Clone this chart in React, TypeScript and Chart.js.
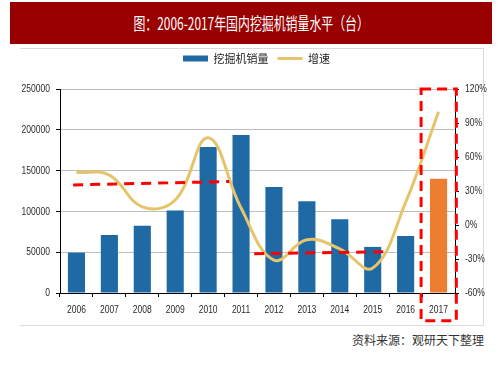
import React, { useEffect, useRef } from 'react';
import { Chart, registerables } from 'chart.js';

Chart.register(...registerables);

// ---- data ----
const years = ['2006', '2007', '2008', '2009', '2010', '2011', '2012', '2013', '2014', '2015', '2016', '2017'];
const sales = [49500, 71000, 82500, 101000, 179000, 193500, 130000, 112500, 90500, 56500, 70000, 140000];
const growth = [46.5, 44, 16, 22, 77, 15, -31, -13, -21, -38, 20, 100];
const highlightYear = '2017';

const salesMin = 0;
const salesMax = 250000;
const salesStep = 50000;
const growthMin = -60;
const growthMax = 120;
const growthStep = 30;

const titleText = '图：2006-2017年国内挖掘机销量水平（台）';
const salesLabel = '挖掘机销量';
const growthLabel = '增速';
const sourceText = '资料来源：观研天下整理';

// dashed annotations, in data units (x = category index, y = sales axis)
const trendAX = [-0.1, 4.64];
const trendAY = [132400, 136600];
const trendBX = [5.4, 9.53];
const trendBY = [48200, 50600];
const boxX = [10.47, 11.54];
const boxY = [-34000, 250000];

// ---- styles ----
const BLUE = '#1F6AA5';
const ORANGE = '#ED7D31';
const GOLD = '#E5C46B';
const RED = '#FF0000';
const TICK_FONT = "'Liberation Sans', Arial, sans-serif";
const TICK_SIZE = 11.5;
const TICK_SX = 0.74;
const CJK_FONT = "'Noto Sans CJK SC', 'Noto Sans', sans-serif";

function condensedText(ctx: any, text: string, x: number, y: number, align: string) {
  ctx.save();
  ctx.translate(x, y);
  ctx.scale(TICK_SX, 1);
  ctx.textAlign = align;
  ctx.textBaseline = 'middle';
  ctx.fillText(text, 0, 0);
  ctx.restore();
}

const condensedTicks = {
  id: 'condensedTicks',
  afterDraw(chart: any) {
    const { ctx, scales, chartArea } = chart;
    ctx.save();
    ctx.fillStyle = '#2a2a2a';
    ctx.font = `${TICK_SIZE}px ${TICK_FONT}`;
    const xs = scales.x;
    xs.ticks.forEach((t: any, i: number) => {
      condensedText(ctx, String(t.label), xs.getPixelForTick(i), chartArea.bottom + 17, 'center');
    });
    const yl = scales.y;
    yl.ticks.forEach((t: any, i: number) => {
      condensedText(ctx, String(t.label), chartArea.left - 10, yl.getPixelForTick(i), 'right');
    });
    const yr = scales.y1;
    yr.ticks.forEach((t: any, i: number) => {
      condensedText(ctx, String(t.label), chartArea.right + 10, yr.getPixelForTick(i), 'left');
    });
    ctx.restore();
  },
};

const annotations = {
  id: 'dashedMarks',
  afterDraw(chart: any) {
    const { ctx, scales } = chart;
    const x = scales.x;
    const y = scales.y;
    ctx.save();
    ctx.strokeStyle = RED;
    ctx.lineWidth = 3;
    ctx.setLineDash([10, 7]);
    const seg = (xs: number[], ys: number[]) => {
      ctx.beginPath();
      ctx.moveTo(x.getPixelForValue(xs[0]), y.getPixelForValue(ys[0]));
      ctx.lineTo(x.getPixelForValue(xs[1]), y.getPixelForValue(ys[1]));
      ctx.stroke();
    };
    seg(trendAX, trendAY);
    seg(trendBX, trendBY);
    const l = x.getPixelForValue(boxX[0]);
    const r = x.getPixelForValue(boxX[1]);
    const t = y.getPixelForValue(boxY[1]);
    const b = y.getPixelForValue(boxY[0]);
    ctx.setLineDash([10, 6]);
    ctx.beginPath();
    ctx.rect(l, t, r - l, b - t);
    ctx.stroke();
    ctx.restore();
  },
};

const legendSpacer = {
  id: 'legendSpacer',
  beforeLayout(chart: any) {
    const lg = chart.legend;
    if (lg && !lg.__patched) {
      const orig = lg.fit.bind(lg);
      lg.fit = function () {
        orig();
        this.height = 45;
      };
      lg.__patched = true;
    }
  },
  afterLayout(chart: any) {
    const lg = chart.legend;
    if (lg) {
      lg.left += 5;
      lg.right += 5;
    }
  },
};

export default function App() {
  const ref = useRef<HTMLCanvasElement | null>(null);

  useEffect(() => {
    if (!ref.current) return;
    const chart = new Chart(ref.current, {
      type: 'bar',
      data: {
        labels: years,
        datasets: [
          {
            type: 'line',
            label: growthLabel,
            data: growth,
            yAxisID: 'y1',
            borderColor: GOLD,
            backgroundColor: GOLD,
            borderWidth: 3,
            pointRadius: 0,
            tension: 0.4,
            fill: false,
            order: 0,
            pointStyle: 'line',
          } as any,
          {
            type: 'bar',
            label: salesLabel,
            data: sales,
            yAxisID: 'y',
            backgroundColor: years.map((yr) => (yr === highlightYear ? ORANGE : BLUE)),
            borderWidth: 0,
            categoryPercentage: 1,
            barPercentage: 0.52,
            order: 1,
            pointStyle: 'rect',
          } as any,
        ],
      },
      options: {
        animation: false,
        responsive: false,
        maintainAspectRatio: false,
        layout: { padding: 0 },
        plugins: {
          tooltip: { enabled: false },
          legend: {
            display: true,
            position: 'top',
            reverse: true,
            labels: {
              usePointStyle: true,
              pointStyleWidth: 25,
              boxWidth: 25,
              boxHeight: 6,
              padding: 9,
              color: '#222',
              font: { family: CJK_FONT, size: 11 },
            },
          },
        },
        scales: {
          x: {
            type: 'category',
            offset: true,
            grid: {
              display: true,
              offset: true,
              drawOnChartArea: false,
              drawTicks: true,
              tickLength: 4,
              tickColor: '#000',
            },
            border: { display: true, color: '#000', width: 1 },
            ticks: { display: false, autoSkip: false, maxRotation: 0 },
            afterFit: (s: any) => {
              s.height = 32;
            },
          },
          y: {
            type: 'linear',
            position: 'left',
            min: salesMin,
            max: salesMax,
            ticks: {
              display: false,
              stepSize: salesStep,
              callback: (v: any) => String(v),
            },
            grid: {
              color: '#BEBEBE',
              lineWidth: 1,
              tickLength: 4,
              tickColor: '#000',
            },
            border: { display: true, color: '#000', width: 1 },
            afterFit: (s: any) => {
              s.width = 60;
            },
          },
          y1: {
            type: 'linear',
            position: 'right',
            min: growthMin,
            max: growthMax,
            ticks: {
              display: false,
              stepSize: growthStep,
              callback: (v: any) => `${v}%`,
            },
            grid: {
              drawOnChartArea: false,
              tickLength: 4,
              tickColor: '#000',
            },
            border: { display: true, color: '#000', width: 1 },
            afterFit: (s: any) => {
              s.width = 48;
            },
          },
        },
      },
      plugins: [legendSpacer, annotations, condensedTicks],
    });
    return () => chart.destroy();
  }, []);

  return (
    <div
      style={{
        position: 'fixed',
        left: 0,
        top: 0,
        width: 503,
        height: 378,
        background: '#fff',
        overflow: 'hidden',
      }}
    >
      <div
        style={{
          position: 'absolute',
          left: 20,
          top: 48,
          width: 463,
          height: 276,
          borderTop: '1px solid #DADADA',
          borderRight: '1px solid #DADADA',
          borderBottom: '1px solid #DADADA',
        }}
      />
      <canvas
        ref={ref}
        width={503}
        height={281}
        style={{ position: 'absolute', left: 0, top: 44, width: 503, height: 281 }}
      />
      <div
        style={{
          position: 'absolute',
          left: 10,
          top: 2,
          width: 482,
          height: 42,
          background: '#990000',
          color: '#fff',
          fontFamily: CJK_FONT,
          fontSize: 17,
          lineHeight: '42px',
          textAlign: 'center',
          whiteSpace: 'nowrap',
        }}
      >
        <span style={{ display: 'inline-block', transform: 'scaleX(0.7)', transformOrigin: 'center' }}>
          {titleText}
        </span>
      </div>
      <div
        style={{
          position: 'absolute',
          right: 19,
          top: 331,
          color: '#333',
          fontFamily: CJK_FONT,
          fontSize: 12,
          lineHeight: '18px',
          whiteSpace: 'nowrap',
        }}
      >
        {sourceText}
      </div>
    </div>
  );
}
